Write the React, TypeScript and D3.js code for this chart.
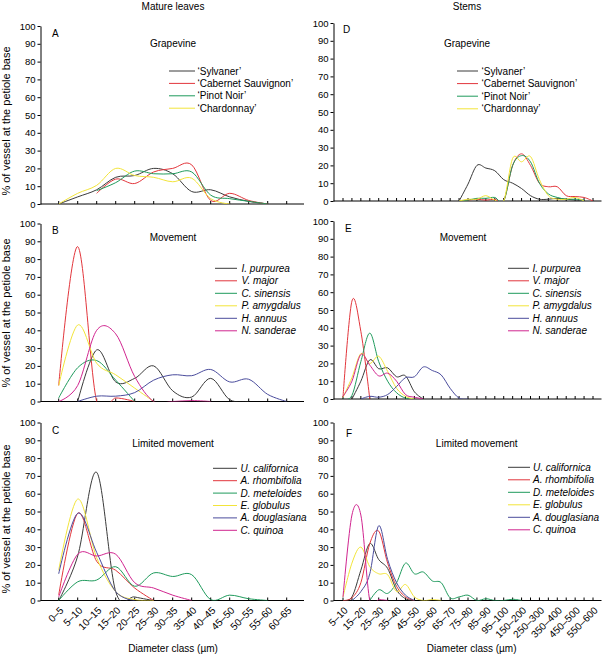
import React, { useRef, useEffect } from 'react';
import * as d3 from 'd3';

const FONT = "'Liberation Sans', Arial, Helvetica, sans-serif";

// diameter classes (µm)
const leafClasses = ["0–5", "5–10", "10–15", "15–20", "20–25", "25–30", "30–35", "35–40", "40–45", "45–50", "50–55", "55–60", "60–65"];
const stemClasses = ["5–10", "10–15", "15–20", "20–25", "25–30", "30–35", "35–40", "40–45", "45–50", "50–55", "55–60", "60–65", "65–70", "70–75", "75–80", "80–85", "85–90", "90–95", "95–100", "100–150", "150–200", "200–250", "250–300", "300–350", "350–400", "400–450", "450–500", "500–550", "550–600"];

const seriesColors = ["#3a3a3a", "#e2363c", "#1f9a5c", "#f2e43a", "#4a4c9c", "#d0258f"];

const cultivars = ["‘Sylvaner’", "‘Cabernet Sauvignon’", "‘Pinot Noir’", "‘Chardonnay’"];
const movementSpecies = ["I. purpurea", "V. major", "C. sinensis", "P. amygdalus", "H. annuus", "N. sanderae"];
const limitedSpecies = ["U. californica", "A. rhombifolia", "D. meteloides", "E. globulus", "A. douglasiana", "C. quinoa"];

const _ = null;

// A – mature leaves, grapevine
const leafSylvaner = [0, 4, 8, 15, 16, 20, 17, 7, 8, 4, 1.5, 0, _];
const leafCabernet = [_, _, 6, 14, 11.5, 18, 20, 22, 2, 6, 2, 0, _];
const leafPinot = [_, _, 7.5, 12, 18.5, 17, 17, 18, 5, 3, 1.5, 0, _];
const leafChardonnay = [0, 6, 10.5, 20, 16, 15, 12.5, 14.5, 3, 0, _, _, _];

// B – mature leaves, movement
const leafPurpurea = [_, 0, 29, 11, 13, 20, 6, 2.5, 13, 1, 0, _, _];
const leafMajor = [9, 87, 0, 2, 0, _, _, _, _, _, _, _, _];
const leafSinensis = [2, 19, 23, 12, 0, _, _, _, _, _, _, _, _];
const leafAmygdalus = [9, 43, 21.5, 15, 7.5, 0, _, _, _, _, _, _, _];
const leafAnnuus = [_, 0, 3, 3, 5, 12, 15, 14.5, 18, 11, 12.5, 4, 0];
const leafSanderae = [0, 9, 40, 38, 14, 0, 0, 0.5, 0, _, _, _, _];

// C – mature leaves, limited movement
const leafCalifornica = [0, 25, 72, 5, 2, 0, _, _, _, _, _, _, _];
const leafRhombifolia = [3, 49, 22, 17, 7, 0, _, _, _, _, _, _, _];
const leafMeteloides = [0, 10.5, 11.5, 19, 8, 15.5, 13.5, 14.5, 0.5, 3, 1, 0, _];
const leafGlobulus = [17, 57, 24, 5, 0.5, 0, _, _, _, _, _, _, _];
const leafDouglasiana = [15, 49, 27, 5, 0, _, _, _, _, _, _, _, _];
const leafQuinoa = [2, 26, 25, 26, 10, 7, 3, 0, _, _, _, _, _];

// D – stems, grapevine
const stemSylvaner = [_, _, _, _, _, _, _, _, _, _, _, _, _, 0, 9.5, 20, 18.5, 17, 12, 10, 7, 3, 1, 1, 1.5, 1, 0.5, 0, _];
const stemCabernet = [_, _, _, _, _, _, _, _, _, _, _, _, _, 0, 0.5, 1, 0.5, 1, 0, 20, 26.5, 20, 10, 8, 8, 3, 2.5, 2, 0];
const stemPinot = [_, _, _, _, _, _, _, _, _, _, _, _, _, 0, 0.5, 1.5, 1.5, 2, 0, 20, 25.5, 22, 10, 4, 2, 1, 1, 0.5, _];
const stemChardonnay = [_, _, _, _, _, _, _, _, _, _, _, _, _, 0, 1, 1, 3, 0.5, 0, 24, 22, 25, 12, 3, 1, 1, 2, 0, _];

// E – stems, movement
const stemPurpurea = [_, 0, 10, 22, 17, 17.5, 12.5, 13, 4, 0];
const stemMajor = [1, 55, 38, 0];
const stemSinensis = [0, 2, 21, 37, 21, 10, 3.5, 0.5, 0];
const stemAmygdalus = [1, 12, 25.5, 20, 24, 15.5, 6, 1.5, 0];
const stemAnnuus = [_, _, 0, 1.5, 1, 2.5, 7, 12, 12.5, 18, 16, 13.5, 6, 0.5, 0];
const stemSanderae = [1.5, 10, 25, 19, 13, 14.5, 10, 2.5, 1, 0];

// F – stems, limited movement
const stemCalifornica = [0, 2, 17, 32, 23, 18, 6, 1, 0];
const stemRhombifolia = [0, 1.5, 10, 32, 39, 21, 8, 2, 0];
const stemMeteloides = [_, _, _, 0, 6, 4, 10, 21, 15, 16, 11, 10, 1.5, 2, 3, 0, 1, 0, 0, 0.7, 0];
const stemGlobulus = [2, 21, 30, 19, 15, 14.5, 5, 9, 2, 0, 0.5, 0];
const stemDouglasiana = [_, 0, 5, 15, 42, 23, 10, 3, 0];
const stemQuinoa = [2, 48, 48, 0, 0.5, 0];

const yTicks = d3.range(0, 101, 10);

interface Panel {
  id: string;
  title: string;
  side: 'left' | 'right';
  top: number;
  bottom: number;
  names: string[];
  series: (number | null)[][];
  legend: { x1: number; x2: number; tx: number; y: number; dy: number };
  titleX: number;
  titleY: number;
  letterX: number;
  letterY: number;
  showLabels: boolean;
  yLabelY?: number;
}

const panels: Panel[] = [
  { id: 'A', title: 'Grapevine', side: 'left', top: 26, bottom: 204, names: cultivars,
    series: [leafSylvaner, leafCabernet, leafPinot, leafChardonnay],
    legend: { x1: 169, x2: 195, tx: 197.5, y: 71, dy: 12.4 }, titleX: 173, titleY: 47, letterX: 52, letterY: 37, showLabels: false, yLabelY: 121 },
  { id: 'B', title: 'Movement', side: 'left', top: 223.5, bottom: 401.5, names: movementSpecies,
    series: [leafPurpurea, leafMajor, leafSinensis, leafAmygdalus, leafAnnuus, leafSanderae],
    legend: { x1: 215, x2: 237, tx: 241.5, y: 268.3, dy: 12.5 }, titleX: 173, titleY: 241, letterX: 52, letterY: 234, showLabels: false, yLabelY: 313 },
  { id: 'C', title: 'Limited movement', side: 'left', top: 422.5, bottom: 600.5, names: limitedSpecies,
    series: [leafCalifornica, leafRhombifolia, leafMeteloides, leafGlobulus, leafDouglasiana, leafQuinoa],
    legend: { x1: 213, x2: 237, tx: 240.5, y: 468.3, dy: 12.4 }, titleX: 173, titleY: 447, letterX: 52, letterY: 434, showLabels: true, yLabelY: 519 },
  { id: 'D', title: 'Grapevine', side: 'right', top: 23, bottom: 201, names: cultivars,
    series: [stemSylvaner, stemCabernet, stemPinot, stemChardonnay],
    legend: { x1: 457, x2: 478, tx: 481.5, y: 71, dy: 12.6 }, titleX: 467, titleY: 47, letterX: 343, letterY: 33, showLabels: false },
  { id: 'E', title: 'Movement', side: 'right', top: 221, bottom: 399, names: movementSpecies,
    series: [stemPurpurea, stemMajor, stemSinensis, stemAmygdalus, stemAnnuus, stemSanderae],
    legend: { x1: 508, x2: 529, tx: 532.5, y: 268.3, dy: 12.5 }, titleX: 463, titleY: 241, letterX: 345, letterY: 232, showLabels: false },
  { id: 'F', title: 'Limited movement', side: 'right', top: 422.5, bottom: 600.5, names: limitedSpecies,
    series: [stemCalifornica, stemRhombifolia, stemMeteloides, stemGlobulus, stemDouglasiana, stemQuinoa],
    legend: { x1: 508, x2: 530, tx: 533, y: 467.3, dy: 12.5 }, titleX: 476.7, titleY: 447, letterX: 346, letterY: 437, showLabels: true },
];

const App: React.FC = () => {
  const ref = useRef<SVGSVGElement | null>(null);

  useEffect(() => {
    if (!ref.current) return;
    const svg = d3.select(ref.current);
    svg.selectAll('*').remove();

    svg.append('text').attr('x', 173).attr('y', 10).attr('text-anchor', 'middle').text('Mature leaves');
    svg.append('text').attr('x', 467).attr('y', 10).attr('text-anchor', 'middle').text('Stems');
    svg.append('text').attr('x', 173).attr('y', 652).attr('text-anchor', 'middle').text('Diameter class (µm)');
    svg.append('text').attr('x', 471.7).attr('y', 652).attr('text-anchor', 'middle').text('Diameter class (µm)');

    const defs = svg.append('defs');

    panels.forEach(p => {
      const left = p.side === 'left';
      const classes = left ? leafClasses : stemClasses;
      const axisX0 = left ? 40.5 : 333.5;
      const axisX1 = left ? 304 : 601.5;
      const x = d3.scaleLinear()
        .domain([0, classes.length - 1])
        .range(left ? [58.7, 286.7] : [343, 593]);
      const y = d3.scaleLinear().domain([0, 100]).range([p.bottom, p.top]);

      defs.append('clipPath').attr('id', `clip-${p.id}`)
        .append('rect')
        .attr('x', axisX0).attr('y', p.top - 5)
        .attr('width', axisX1 - axisX0).attr('height', p.bottom - p.top + 5);

      const g = svg.append('g');

      // y axis
      const yAxis = g.append('g')
        .attr('transform', `translate(${axisX0},0)`)
        .call(d3.axisLeft(y).tickValues(yTicks).tickSize(3).tickSizeOuter(0).tickPadding(2));
      yAxis.select('.domain').attr('stroke', '#000');
      yAxis.selectAll('line').attr('stroke', '#000');
      yAxis.selectAll('text').attr('class', 'ytl');

      // x axis (ticks pointing up)
      g.append('line')
        .attr('x1', axisX0).attr('x2', axisX1)
        .attr('y1', p.bottom).attr('y2', p.bottom)
        .attr('stroke', '#000');
      g.selectAll('.xt').data(classes).enter().append('line')
        .attr('x1', (_d, i) => x(i)).attr('x2', (_d, i) => x(i))
        .attr('y1', p.bottom).attr('y2', p.bottom - 3)
        .attr('stroke', '#000');

      if (p.showLabels) {
        g.selectAll('.xl').data(classes).enter()
          .filter((_d, i) => left || i % 2 === 0)
          .append('text')
          .attr('transform', d => {
            const i = classes.indexOf(d);
            return `translate(${x(i) + 3},${p.bottom + 8}) rotate(-45)`;
          })
          .attr('text-anchor', 'end')
          .attr('dy', '0.35em')
          .text(d => d);
      }

      // curves
      const line = d3.line<number | null>()
        .defined(d => d !== null && d !== undefined)
        .x((_d, i) => x(i))
        .y(d => y(d as number))
        .curve(d3.curveCardinal.tension(0));

      const cg = g.append('g').attr('clip-path', `url(#clip-${p.id})`);
      p.series.forEach((s, k) => {
        cg.append('path')
          .datum(s)
          .attr('fill', 'none')
          .attr('stroke', seriesColors[k])
          .attr('stroke-width', 1)
          .attr('d', line);
      });

      // letter & title
      g.append('text').attr('x', p.letterX).attr('y', p.letterY).text(p.id);
      g.append('text').attr('x', p.titleX).attr('y', p.titleY).attr('text-anchor', 'middle').text(p.title);

      // legend
      p.names.forEach((n, k) => {
        const ly = p.legend.y + k * p.legend.dy;
        g.append('line')
          .attr('x1', p.legend.x1).attr('x2', p.legend.x2)
          .attr('y1', ly).attr('y2', ly)
          .attr('stroke', seriesColors[k]).attr('stroke-width', 1);
        g.append('text')
          .attr('x', p.legend.tx).attr('y', ly).attr('dy', '0.35em')
          .attr('font-style', p.id === 'A' || p.id === 'D' ? 'normal' : 'italic')
          .text(n);
      });

      if (p.yLabelY !== undefined) {
        g.append('text')
          .attr('class', 'ylab')
          .attr('transform', `translate(10,${p.yLabelY}) rotate(-90)`)
          .attr('text-anchor', 'middle')
          .text('% of vessel at the petiole base');
      }
    });

    svg.selectAll('text')
      .attr('font-family', FONT)
      .attr('font-size', 10)
      .attr('fill', '#000');
    svg.selectAll('text.ytl').attr('font-size', 9.5);
    svg.selectAll('text.ylab').attr('font-size', 11);
  }, []);

  return (
    <div style={{ position: 'absolute', left: 0, top: 0 }}>
      <svg ref={ref} width={605} height={654} style={{ display: 'block', background: '#fff' }} />
    </div>
  );
};

export default App;
